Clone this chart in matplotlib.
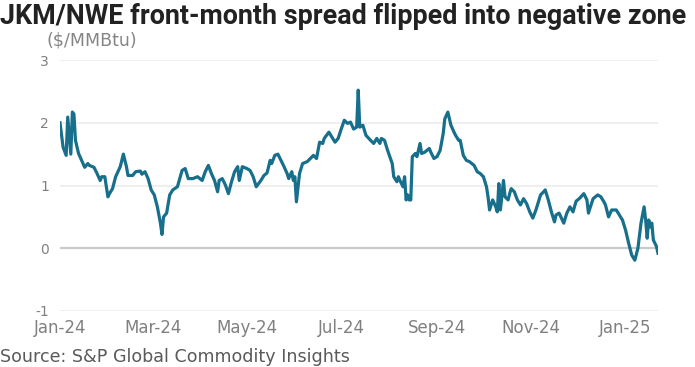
import matplotlib
matplotlib.use("Agg")
import matplotlib.pyplot as plt
import matplotlib.dates as mdates
import pandas as pd

# Days since 2024-01-01 and JKM/NWE front-month spread ($/MMBtu)
days = [0, 2, 4, 5, 7, 8, 9, 10, 12, 14, 16, 18, 19, 22, 24, 26, 27, 29, 31, 32,
        34, 36, 39, 41, 43, 44, 47, 49, 52, 53, 55, 57, 59, 61, 63, 65, 66, 67, 69, 71,
        73, 76, 79, 81, 83, 86, 89, 92, 94, 96, 98, 100, 102, 103, 105, 107, 109, 111, 113, 115,
        116, 118, 121, 123, 125, 127, 130, 132, 134, 136, 137, 139, 141, 143, 145, 147, 148, 150, 151, 152,
        153, 155, 157, 160, 162, 164, 166, 168, 170, 171, 174, 176, 178, 180, 182, 184, 186, 188, 190, 192,
        193, 194, 196, 198, 201, 203, 205, 207, 208, 210, 212, 215, 216, 218, 219, 220, 222, 223, 224, 225,
        226, 227, 228, 230, 231, 233, 234, 236, 239, 240, 242, 244, 246, 248, 249, 251, 253, 255, 256, 258,
        259, 261, 263, 265, 268, 270, 272, 274, 276, 277, 278, 280, 282, 283, 284, 285, 287, 288, 290, 291,
        292, 294, 296, 298, 300, 302, 304, 306, 308, 311, 313, 314, 316, 318, 320, 321, 323, 326, 328, 330,
        332, 334, 336, 339, 341, 342, 343, 345, 348, 350, 352, 353, 355, 357, 360, 362, 364, 366, 368, 370,
        372, 374, 376, 378, 379, 380, 381, 382, 383, 384, 386, 387]
spread = [2.00, 1.61, 1.48, 2.09, 1.50, 2.17, 2.14, 1.72, 1.51, 1.40, 1.29, 1.35, 1.32, 1.29, 1.19, 1.08, 1.14, 1.14, 0.82, 0.87,
          0.95, 1.14, 1.30, 1.50, 1.30, 1.16, 1.16, 1.22, 1.23, 1.18, 1.22, 1.11, 0.93, 0.85, 0.66, 0.40, 0.22, 0.50, 0.56, 0.85,
          0.93, 0.98, 1.24, 1.27, 1.11, 1.11, 1.14, 1.08, 1.22, 1.32, 1.19, 1.08, 0.90, 1.08, 1.11, 1.01, 0.87, 1.06, 1.22, 1.30,
          1.08, 1.30, 1.27, 1.24, 1.14, 0.98, 1.08, 1.16, 1.20, 1.40, 1.35, 1.48, 1.50, 1.40, 1.30, 1.19, 1.11, 1.22, 1.08, 1.14,
          0.74, 1.19, 1.35, 1.38, 1.43, 1.48, 1.43, 1.69, 1.67, 1.75, 1.85, 1.77, 1.69, 1.75, 1.90, 2.04, 1.99, 2.01, 1.90, 1.93,
          2.52, 1.93, 1.96, 1.80, 1.72, 1.67, 1.75, 1.67, 1.75, 1.72, 1.56, 1.35, 1.14, 1.06, 1.14, 1.08, 0.98, 1.14, 0.77, 0.85,
          0.77, 0.77, 1.46, 1.51, 1.46, 1.67, 1.51, 1.53, 1.59, 1.53, 1.43, 1.46, 1.56, 1.83, 2.06, 2.17, 1.96, 1.85, 1.80, 1.72,
          1.72, 1.48, 1.40, 1.38, 1.32, 1.22, 1.19, 1.14, 0.98, 0.82, 0.61, 0.77, 0.66, 0.58, 1.03, 0.61, 1.08, 0.82, 0.77, 0.87,
          0.95, 0.90, 0.77, 0.69, 0.79, 0.71, 0.58, 0.48, 0.61, 0.85, 0.90, 0.93, 0.77, 0.58, 0.42, 0.53, 0.56, 0.40, 0.56, 0.66,
          0.58, 0.75, 0.79, 0.87, 0.77, 0.56, 0.64, 0.79, 0.85, 0.82, 0.74, 0.69, 0.50, 0.61, 0.61, 0.53, 0.45, 0.29, 0.08, -0.11,
          -0.19, 0.00, 0.40, 0.66, 0.45, 0.16, 0.45, 0.34, 0.40, 0.13, 0.03, -0.08]

y_ticks = [-1, 0, 1, 2, 3]
title = "JKM/NWE front-month spread flipped into negative zone"
unit_label = "($/MMBtu)"
source = "Source: S&P Global Commodity Insights"

start = pd.Timestamp("2024-01-01")
dates = start + pd.to_timedelta(days, unit="D")

fig = plt.figure(figsize=(6.95, 3.67), dpi=100)
ax = fig.add_axes([60 / 695, 1 - 311 / 367, (658 - 60) / 695, (311 - 60) / 367])

for yv in y_ticks:
    if yv == 0:
        ax.axhline(yv, color="#c9c9c9", lw=1.6, zorder=1)
    else:
        ax.axhline(yv, color="#ececec", lw=1.2, zorder=1)

ax.plot(dates, spread, color="#176f8b", lw=2.3, zorder=3, solid_joinstyle="round")

ax.set_ylim(-1, 3)
ax.set_xlim(start, start + pd.Timedelta(days=387))
ax.set_yticks(y_ticks)
ax.set_yticklabels([str(v) for v in y_ticks])
ax.xaxis.set_major_locator(mdates.MonthLocator(bymonth=[1, 3, 5, 7, 9, 11]))
ax.xaxis.set_major_formatter(mdates.DateFormatter("%b-%y"))
for s in ax.spines.values():
    s.set_visible(False)
ax.tick_params(axis="both", length=0, colors="#808080")
ax.tick_params(axis="y", pad=8, labelsize=10)
ax.tick_params(axis="x", pad=6, labelsize=12)
for lbl in ax.get_xticklabels() + ax.get_yticklabels():
    lbl.set_fontfamily("DejaVu Sans")

fig.text(0.0, 1 - 16 / 367, title, fontsize=19.4, fontweight="bold", fontfamily="Roboto",
         color="#222222", va="center", ha="left")
fig.text(46 / 695, 1 - 41 / 367, unit_label, fontsize=12.5, fontfamily="DejaVu Sans",
         color="#858585", va="center", ha="left")
fig.text(0.0, 1 - 357 / 367, source, fontsize=12.6, fontfamily="DejaVu Sans",
         color="#5a5a5a", va="center", ha="left")

fig.savefig("out.png", dpi=100)
